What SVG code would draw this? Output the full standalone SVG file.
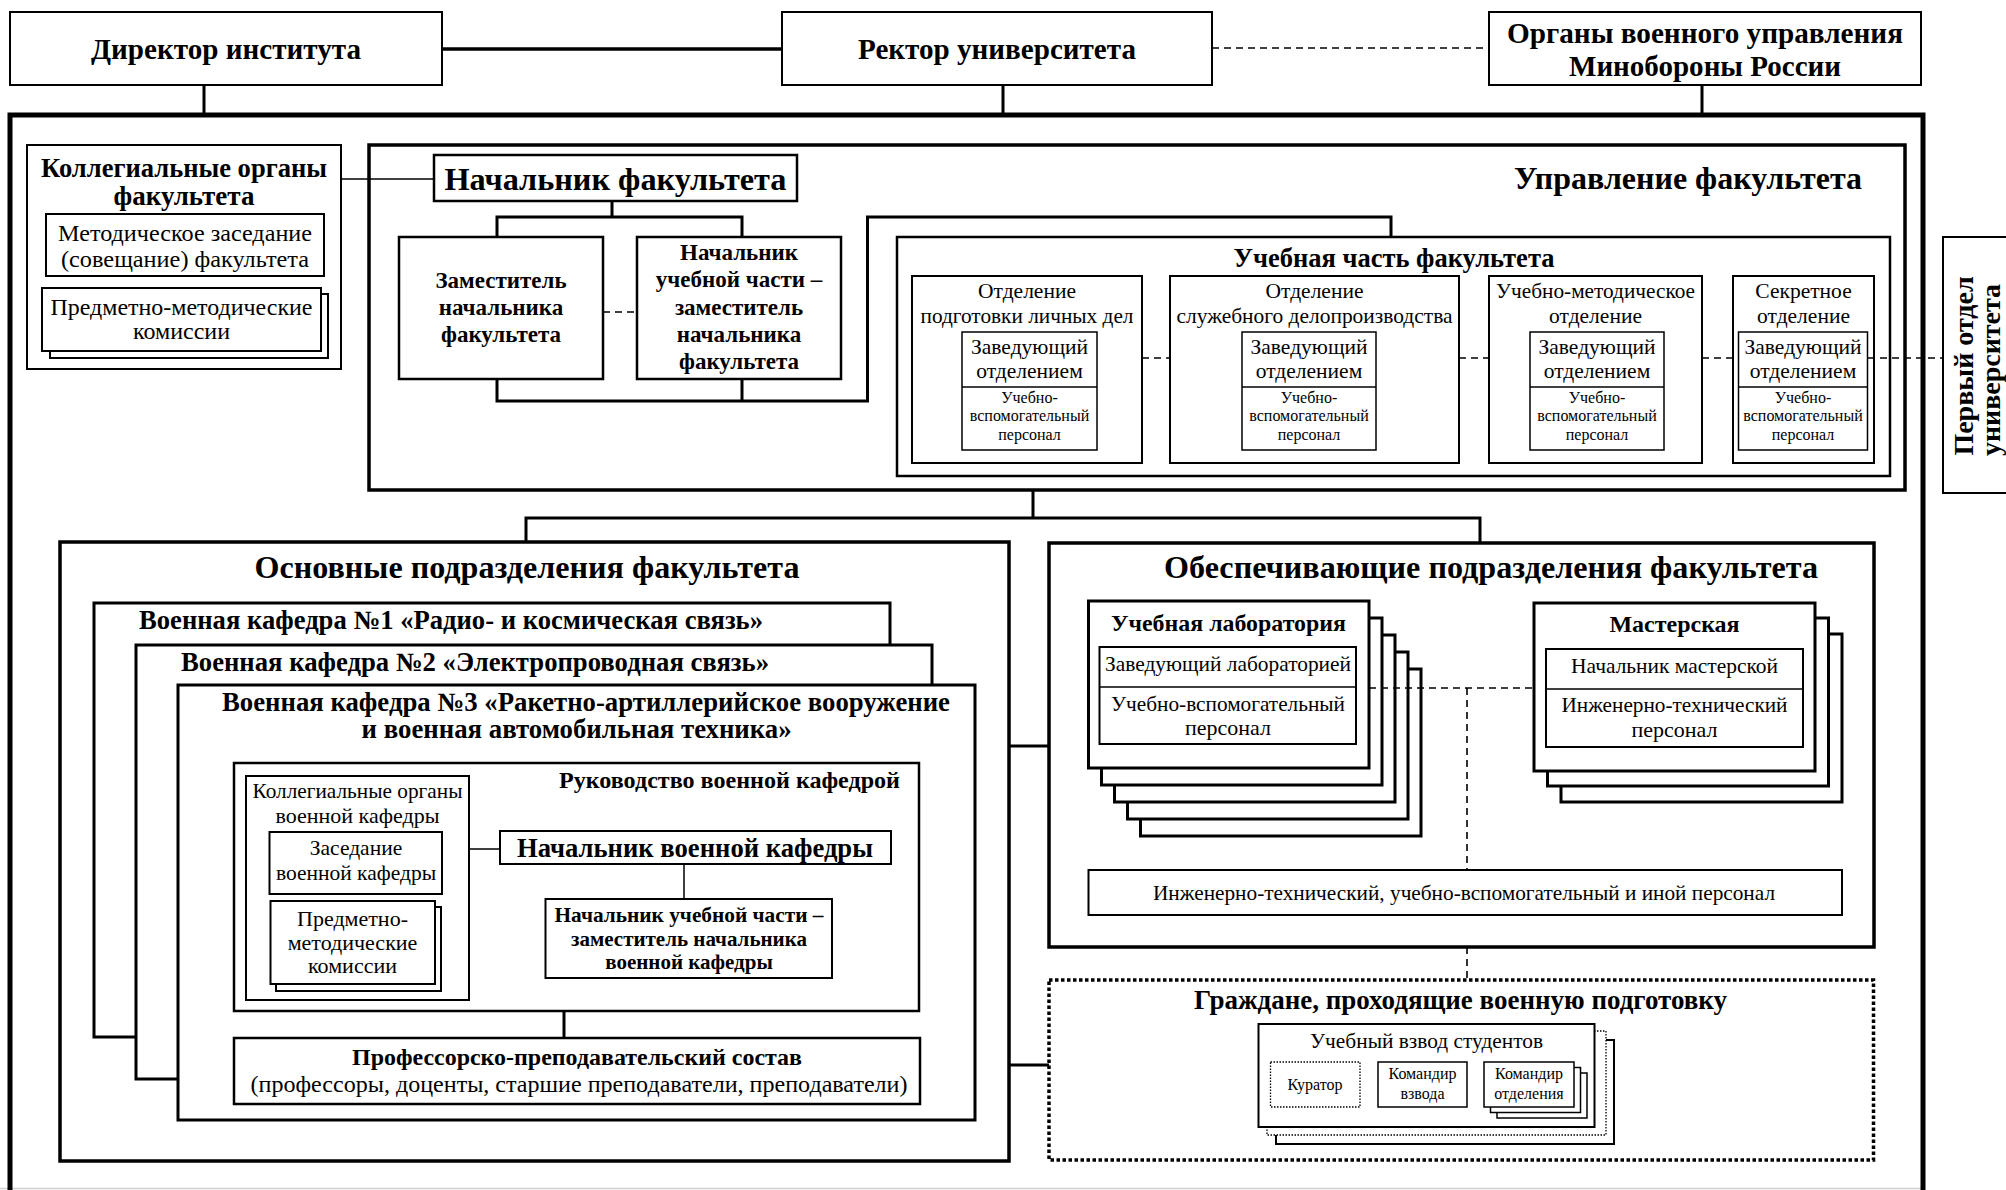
<svg xmlns="http://www.w3.org/2000/svg" width="2006" height="1190" viewBox="0 0 2006 1190">
<style>
.bx{fill:#fff;stroke:#000;stroke-width:2}
.bx1{fill:#fff;stroke:#000;stroke-width:1.5}
.bx25{fill:#fff;stroke:#000;stroke-width:2.5}
.bx3{fill:#fff;stroke:#000;stroke-width:3}
.fr{fill:none;stroke:#000}
.ln{fill:none;stroke:#000;stroke-width:3}
.thin{fill:none;stroke:#000;stroke-width:1.5}
.dash{fill:none;stroke:#000;stroke-width:1.6;stroke-dasharray:7 5}
.dot{fill:#fff;stroke:#000;stroke-width:1.3;stroke-dasharray:1.5 1.5}
text{font-family:"Liberation Serif","Times New Roman",serif;fill:#000;text-anchor:middle}
.b{font-weight:bold}
</style>
<rect width="2006" height="1190" fill="#fff"/>
<line x1="0" y1="1188.5" x2="1922" y2="1188.5" stroke="#cfcfcf" stroke-width="1.5"/>

<g id="outer-frame"><rect x="10" y="115" width="1913" height="1095" class="fr" stroke-width="5"/></g>

<g id="director"><rect x="10" y="12" width="432" height="73" class="bx"/>
<text x="226" y="59" font-size="30" class="b" textLength="270" lengthAdjust="spacingAndGlyphs">Директор института</text></g>
<g id="rector"><rect x="782" y="12" width="430" height="73" class="bx"/>
<text x="997" y="59" font-size="30" class="b" textLength="278" lengthAdjust="spacingAndGlyphs">Ректор университета</text></g>
<g id="mod-organs"><rect x="1489" y="12" width="432" height="73" class="bx"/>
<text x="1705" y="43" font-size="30" class="b" textLength="396" lengthAdjust="spacingAndGlyphs">Органы военного управления</text>
<text x="1705" y="76" font-size="30" class="b" textLength="272" lengthAdjust="spacingAndGlyphs">Минобороны России</text></g>

<g id="first-dept"><rect x="1943" y="237" width="90" height="256" class="bx"/>
<text class="b" font-size="28" transform="translate(1973,366) rotate(-90)">Первый отдел</text>
<text class="b" font-size="28" transform="translate(2000,370) rotate(-90)">университета</text></g>

<g id="faculty-collegial"><rect x="27" y="145" width="314" height="224" class="bx"/>
<text x="184" y="177" font-size="27" class="b" textLength="286" lengthAdjust="spacingAndGlyphs">Коллегиальные органы</text>
<text x="184" y="205" font-size="27" class="b">факультета</text>
<rect x="46" y="214" width="278" height="62" class="bx"/>
<text x="185" y="241" font-size="23.5" textLength="254" lengthAdjust="spacingAndGlyphs">Методическое заседание</text>
<text x="185" y="267" font-size="23.5" textLength="248" lengthAdjust="spacingAndGlyphs">(совещание) факультета</text>
<rect x="50" y="294" width="278" height="64" class="bx"/>
<rect x="42" y="288" width="279" height="63" class="bx"/>
<text x="181.5" y="315" font-size="24" textLength="262" lengthAdjust="spacingAndGlyphs">Предметно-методические</text>
<text x="181.5" y="339" font-size="24">комиссии</text></g>

<g id="management-frame"><rect x="369" y="145" width="1536" height="345" class="fr" stroke-width="3.5"/>
<text x="1688" y="189" font-size="32" class="b" textLength="348" lengthAdjust="spacingAndGlyphs">Управление факультета</text></g>

<g id="faculty-head"><rect x="434" y="155" width="363" height="46" class="bx25"/>
<text x="615.5" y="190" font-size="32" class="b" textLength="342" lengthAdjust="spacingAndGlyphs">Начальник факультета</text></g>

<g id="deputy-head"><rect x="399" y="237" width="204" height="142" class="bx25"/>
<text x="501" y="288" font-size="23" class="b">Заместитель</text>
<text x="501" y="315" font-size="23" class="b">начальника</text>
<text x="501" y="342" font-size="23" class="b">факультета</text></g>

<g id="edu-head"><rect x="637" y="237" width="204" height="142" class="bx25"/>
<text x="739" y="260" font-size="23" class="b">Начальник</text>
<text x="739" y="287.3" font-size="23" class="b">учебной части –</text>
<text x="739" y="314.5" font-size="23" class="b">заместитель</text>
<text x="739" y="341.7" font-size="23" class="b">начальника</text>
<text x="739" y="369" font-size="23" class="b">факультета</text></g>

<g id="edu-part"><rect x="897" y="237" width="993" height="239" class="bx25"/>
<text x="1394" y="267" font-size="26.5" class="b" textLength="321" lengthAdjust="spacingAndGlyphs">Учебная часть факультета</text></g>

<g id="dept-personal"><rect x="912" y="276" width="230" height="187" class="bx"/>
<text x="1027" y="298" font-size="21.5">Отделение</text>
<text x="1027" y="323" font-size="21.5" textLength="213" lengthAdjust="spacingAndGlyphs">подготовки личных дел</text>
<rect x="962" y="332" width="135" height="118" class="bx1"/><line x1="962" y1="387" x2="1097" y2="387" class="thin"/>
<text x="1029.5" y="354" font-size="21.5">Заведующий</text>
<text x="1029.5" y="378" font-size="21.5">отделением</text>
<text x="1029.5" y="403" font-size="16">Учебно-</text>
<text x="1029.5" y="421" font-size="16">вспомогательный</text>
<text x="1029.5" y="440" font-size="16">персонал</text></g>

<g id="dept-office"><rect x="1170" y="276" width="289" height="187" class="bx"/>
<text x="1314.5" y="298" font-size="21.5">Отделение</text>
<text x="1314.5" y="323" font-size="21.5" textLength="276" lengthAdjust="spacingAndGlyphs">служебного делопроизводства</text>
<rect x="1242" y="332" width="134" height="118" class="bx1"/><line x1="1242" y1="387" x2="1376" y2="387" class="thin"/>
<text x="1309" y="354" font-size="21.5">Заведующий</text>
<text x="1309" y="378" font-size="21.5">отделением</text>
<text x="1309" y="403" font-size="16">Учебно-</text>
<text x="1309" y="421" font-size="16">вспомогательный</text>
<text x="1309" y="440" font-size="16">персонал</text></g>

<g id="dept-method"><rect x="1489" y="276" width="213" height="187" class="bx"/>
<text x="1595.5" y="298" font-size="21.5" textLength="199" lengthAdjust="spacingAndGlyphs">Учебно-методическое</text>
<text x="1595.5" y="323" font-size="21.5">отделение</text>
<rect x="1530" y="332" width="134" height="118" class="bx1"/><line x1="1530" y1="387" x2="1664" y2="387" class="thin"/>
<text x="1597" y="354" font-size="21.5">Заведующий</text>
<text x="1597" y="378" font-size="21.5">отделением</text>
<text x="1597" y="403" font-size="16">Учебно-</text>
<text x="1597" y="421" font-size="16">вспомогательный</text>
<text x="1597" y="440" font-size="16">персонал</text></g>

<g id="dept-secret"><rect x="1733" y="276" width="141" height="187" class="bx"/>
<text x="1803.5" y="298" font-size="21.5">Секретное</text>
<text x="1803.5" y="323" font-size="21.5">отделение</text>
<rect x="1738.5" y="332" width="129" height="118" class="bx1"/><line x1="1738.5" y1="387" x2="1867.5" y2="387" class="thin"/>
<text x="1803" y="354" font-size="21.5">Заведующий</text>
<text x="1803" y="378" font-size="21.5">отделением</text>
<text x="1803" y="403" font-size="16">Учебно-</text>
<text x="1803" y="421" font-size="16">вспомогательный</text>
<text x="1803" y="440" font-size="16">персонал</text></g>

<g id="main-units"><rect x="60" y="542" width="949" height="619" class="fr" stroke-width="3.5"/>
<text x="527" y="578" font-size="32" class="b" textLength="545" lengthAdjust="spacingAndGlyphs">Основные подразделения факультета</text></g>

<g id="kafedra-1"><rect x="94" y="603" width="796" height="434" class="bx3"/>
<text x="451" y="629" font-size="26.5" class="b" textLength="624" lengthAdjust="spacingAndGlyphs">Военная кафедра №1 «Радио- и космическая связь»</text></g>
<g id="kafedra-2"><rect x="136" y="645" width="796" height="434" class="bx3"/>
<text x="475" y="671" font-size="26.5" class="b" textLength="588" lengthAdjust="spacingAndGlyphs">Военная кафедра №2 «Электропроводная связь»</text></g>
<g id="kafedra-3"><rect x="178" y="685" width="797" height="435" class="bx3"/>
<text x="586" y="711" font-size="26.5" class="b" textLength="728" lengthAdjust="spacingAndGlyphs">Военная кафедра №3 «Ракетно-артиллерийское вооружение</text>
<text x="576.6" y="738" font-size="26.5" class="b" textLength="430" lengthAdjust="spacingAndGlyphs">и военная автомобильная техника»</text></g>

<g id="kafedra-leadership"><rect x="234" y="763" width="685" height="248" class="fr" stroke-width="2.5"/>
<text x="729.5" y="788" font-size="24" class="b" textLength="341" lengthAdjust="spacingAndGlyphs">Руководство военной кафедрой</text></g>

<g id="kafedra-collegial"><rect x="246" y="776" width="223" height="224" class="bx"/>
<text x="357.5" y="798" font-size="22" textLength="210" lengthAdjust="spacingAndGlyphs">Коллегиальные органы</text>
<text x="357.5" y="823" font-size="22">военной кафедры</text>
<rect x="269.5" y="832" width="172.5" height="62" class="bx"/>
<text x="356" y="855" font-size="21.5">Заседание</text>
<text x="356" y="880" font-size="21.5">военной кафедры</text>
<rect x="276" y="907" width="165" height="84" class="bx"/>
<rect x="270.5" y="901" width="164.5" height="83" class="bx"/>
<text x="352.5" y="926" font-size="22">Предметно-</text>
<text x="352.5" y="950" font-size="22">методические</text>
<text x="352.5" y="973" font-size="22">комиссии</text></g>

<g id="kafedra-head"><rect x="500" y="831" width="391" height="33" class="bx"/>
<text x="695" y="857" font-size="28" class="b" textLength="356" lengthAdjust="spacingAndGlyphs">Начальник военной кафедры</text></g>

<g id="kafedra-edu-head"><rect x="545.5" y="899" width="286.5" height="79" class="bx"/>
<text x="689" y="922" font-size="21" class="b" textLength="269" lengthAdjust="spacingAndGlyphs">Начальник учебной части –</text>
<text x="689" y="946" font-size="21" class="b">заместитель начальника</text>
<text x="689" y="969" font-size="21" class="b">военной кафедры</text></g>

<g id="teaching-staff"><rect x="234" y="1038" width="686" height="66" class="bx25"/>
<text x="577" y="1065" font-size="23.5" class="b" textLength="450" lengthAdjust="spacingAndGlyphs">Профессорско-преподавательский состав</text>
<text x="579" y="1092" font-size="24" textLength="657" lengthAdjust="spacingAndGlyphs">(профессоры, доценты, старшие преподаватели, преподаватели)</text></g>

<g id="support-units"><rect x="1049" y="543" width="825" height="404" class="fr" stroke-width="3.5"/>
<text x="1491" y="578" font-size="32" class="b" textLength="654" lengthAdjust="spacingAndGlyphs">Обеспечивающие подразделения факультета</text></g>

<g id="laboratory">
<rect x="1140.5" y="669" width="280.5" height="167" class="bx3"/>
<rect x="1127.5" y="652" width="280.5" height="167" class="bx3"/>
<rect x="1114.5" y="635" width="280.5" height="167" class="bx3"/>
<rect x="1101.5" y="618" width="280.5" height="167" class="bx3"/>
<rect x="1088.5" y="601" width="280.5" height="167" class="bx3"/>
<text x="1228.5" y="631" font-size="24" class="b" textLength="235" lengthAdjust="spacingAndGlyphs">Учебная лаборатория</text>
<rect x="1099.5" y="647" width="256.5" height="97" class="bx"/><line x1="1099.5" y1="687" x2="1356" y2="687" class="thin" stroke-width="2"/>
<text x="1228" y="671" font-size="22" textLength="246" lengthAdjust="spacingAndGlyphs">Заведующий лабораторией</text>
<text x="1228" y="711" font-size="22" textLength="234" lengthAdjust="spacingAndGlyphs">Учебно-вспомогательный</text>
<text x="1228" y="735" font-size="22">персонал</text></g>

<g id="workshop">
<rect x="1561" y="634" width="281" height="168" class="bx3"/>
<rect x="1547.5" y="618" width="281" height="168" class="bx3"/>
<rect x="1534" y="603" width="281" height="168" class="bx3"/>
<text x="1674.5" y="632" font-size="24" class="b">Мастерская</text>
<rect x="1546" y="649" width="257" height="98" class="bx"/><line x1="1546" y1="689" x2="1803" y2="689" class="thin" stroke-width="2"/>
<text x="1674.5" y="673" font-size="22" textLength="207" lengthAdjust="spacingAndGlyphs">Начальник мастерской</text>
<text x="1674.5" y="712" font-size="22" textLength="226" lengthAdjust="spacingAndGlyphs">Инженерно-технический</text>
<text x="1674.5" y="737" font-size="22">персонал</text></g>

<g id="other-staff"><rect x="1088.5" y="870" width="753.5" height="45" class="bx"/>
<text x="1464" y="900" font-size="22" textLength="622" lengthAdjust="spacingAndGlyphs">Инженерно-технический, учебно-вспомогательный и иной персонал</text></g>

<g id="citizens"><rect x="1049" y="980" width="824.5" height="180" fill="none" stroke="#000" stroke-width="3.5" stroke-dasharray="3.5 2.5"/>
<text x="1460.5" y="1009" font-size="27" class="b" textLength="533" lengthAdjust="spacingAndGlyphs">Граждане, проходящие военную подготовку</text></g>

<g id="platoon">
<rect x="1276" y="1040" width="338" height="104" class="bx"/>
<rect x="1267" y="1031" width="339" height="104" class="dot"/>
<rect x="1258.5" y="1024" width="336" height="103" class="bx"/>
<text x="1426.5" y="1048" font-size="21.5" textLength="233" lengthAdjust="spacingAndGlyphs">Учебный взвод студентов</text>
<rect x="1270.5" y="1062" width="89.5" height="45" class="dot"/>
<text x="1315" y="1090" font-size="16">Куратор</text>
<rect x="1378" y="1062" width="89" height="45" class="bx1"/>
<text x="1422.5" y="1079" font-size="16">Командир</text>
<text x="1422.5" y="1099" font-size="16">взвода</text>
<rect x="1497" y="1073" width="90" height="45" class="bx1"/>
<rect x="1490.5" y="1067.5" width="90" height="45" class="bx1"/>
<rect x="1484" y="1062" width="90" height="45" class="bx1"/>
<text x="1529" y="1079" font-size="16">Командир</text>
<text x="1529" y="1099" font-size="16">отделения</text></g>

<g id="connectors">
<line x1="442" y1="49" x2="782" y2="49" stroke="#000" stroke-width="3.5"/>
<line x1="1212" y1="48" x2="1489" y2="48" class="dash"/>
<path d="M204 85V115M1003 85V115M1702 85V115" class="ln"/>
<line x1="341" y1="179" x2="434" y2="179" class="thin"/>
<path d="M612 201V217M497 237V217H742V237" class="ln"/>
<line x1="603" y1="312" x2="637" y2="312" class="dash"/>
<path d="M497 379V401H867.5V217H1391V237M742 379V401" class="ln"/>
<path d="M1142 358H1170M1459 358H1489M1702 358H1733M1868 358H1943" class="dash"/>
<path d="M1033 490V518M526 542V518H1480V542" class="ln"/>
<path d="M1009 746H1049M1009 1065H1049" class="ln"/>
<line x1="469" y1="849" x2="500" y2="849" class="thin" stroke-width="2"/>
<line x1="684" y1="864" x2="684" y2="899" class="thin" stroke-width="2"/>
<line x1="564" y1="1011" x2="564" y2="1038" class="ln"/>
<path d="M1369 688H1534M1467 688V870M1467 947V980" class="dash"/>
</g>
</svg>
